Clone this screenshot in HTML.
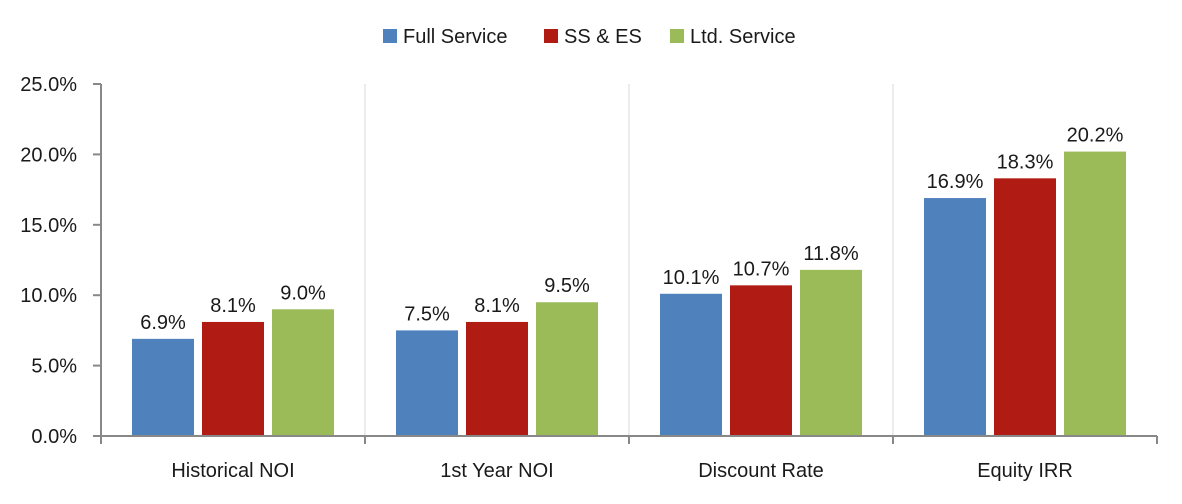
<!DOCTYPE html>
<html><head><meta charset="utf-8"><style>
body{margin:0;background:#fff;font-family:"Liberation Sans",sans-serif}
text{font-family:"Liberation Sans",sans-serif;fill:#1a1a1a}
</style></head><body>
<svg id="chart" width="1182" height="499" viewBox="0 0 1182 499" xmlns="http://www.w3.org/2000/svg">
<g id="legend"></g>
<g id="grid"></g>
<g id="bars"></g>
<g id="axes"></g>
</svg>
<script>
const categories = ["Historical NOI","1st Year NOI","Discount Rate","Equity IRR"];
const seriesNames = ["Full Service","SS & ES","Ltd. Service"];
const fullService = [6.9,7.5,10.1,16.9];
const ssEs = [8.1,8.1,10.7,18.3];
const ltdService = [9.0,9.5,11.8,20.2];
const yTicks = [0,5,10,15,20,25];
const series = [fullService, ssEs, ltdService];
const colors = ["#4F81BD","#B01C14","#9BBB59"];
const NS="http://www.w3.org/2000/svg";
const x0=101, x1=1157, y0=436, yTop=84, yMax=25;
const catW=(x1-x0)/categories.length;
const barW=62, gap=8, off=31;
const y=v=>y0-(v/yMax)*(y0-yTop);
function mk(tag,attrs,parent,txt){const e=document.createElementNS(NS,tag);for(const k in attrs)e.setAttribute(k,attrs[k]);if(txt!==undefined)e.textContent=txt;parent.appendChild(e);return e;}
const grid=document.getElementById('grid'),bars=document.getElementById('bars'),axes=document.getElementById('axes'),legend=document.getElementById('legend');
for(let i=1;i<categories.length;i++){const gx=x0+i*catW;const l=mk('line',{x1:gx,x2:gx,y1:yTop,y2:y0,stroke:'#e6e6e6','stroke-width':1.5},grid);}
categories.forEach((c,ci)=>{series.forEach((s,si)=>{const bx=x0+ci*catW+off+si*(barW+gap);const v=s[ci];
const r=mk('rect',{x:bx,y:y(v),width:barW,height:y0-y(v),fill:colors[si]},bars);


const t=mk('text',{x:bx+barW/2,y:y(v)-10,'text-anchor':'middle','font-size':20},bars,v.toFixed(1)+'%');

});
const t=mk('text',{x:x0+ci*catW+catW/2,y:477,'text-anchor':'middle','font-size':20},axes,c);

});
mk('line',{x1:x0,x2:x0,y1:yTop,y2:y0+1,stroke:'#888','stroke-width':2},axes);
mk('line',{x1:x0-8,x2:x1,y1:y0,y2:y0,stroke:'#888','stroke-width':2},axes);
yTicks.forEach(v=>{mk('line',{x1:x0-8,x2:x0,y1:y(v),y2:y(v),stroke:'#888','stroke-width':2},axes);
const t=mk('text',{x:x0-24,y:y(v)+7,'text-anchor':'end','font-size':20},axes,v.toFixed(1)+'%');

});
for(let i=0;i<=categories.length;i++){const gx=x0+i*catW;mk('line',{x1:gx,x2:gx,y1:y0,y2:y0+8,stroke:'#888','stroke-width':2},axes);}
const lx=[383,544,670];
seriesNames.forEach((n,i)=>{const g=mk('g',{},legend);


mk('rect',{x:lx[i],y:29,width:14,height:14,fill:colors[i]},g);
mk('text',{x:lx[i]+20,y:43,'font-size':20},g,n);});
</script>
</body></html>
